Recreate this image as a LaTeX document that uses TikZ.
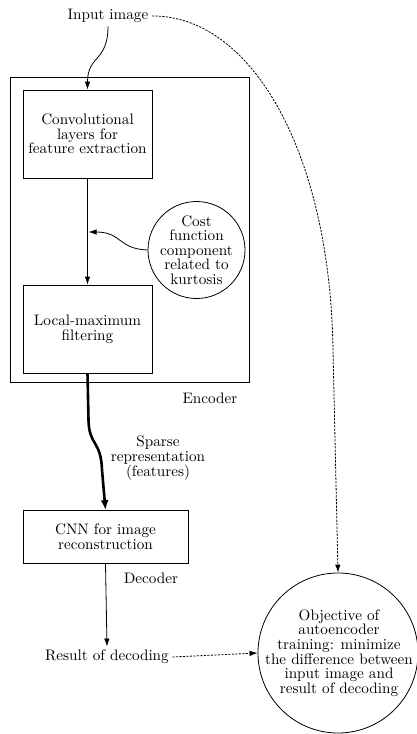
\documentclass[tikz,border=0pt]{standalone}
\usepackage{fontspec}
\setmainfont{lmroman10-regular.otf}
\usetikzlibrary{arrows.meta}
\begin{document}
\begin{tikzpicture}[x=1pt,y=-1pt,
  every node/.style={font=\fontsize{15.2}{14.6}\selectfont, align=center},
  blockbox/.style={draw, line width=0.8pt, inner sep=0pt},
  ring/.style={draw, circle, line width=0.8pt, inner sep=0pt},
  arr/.style={line width=0.8pt, -{Latex[length=8pt,width=5.5pt]}},
  thickarr/.style={line width=2.6pt, -{Latex[length=10pt,width=8pt]}},
  dasharr/.style={line width=0.8pt, dash pattern=on 2.2pt off 1.3pt, -{Latex[length=8pt,width=5.5pt]}}
]
\useasboundingbox (0,0) rectangle (416,734);

\node (inp) at (108,16) {Input image};
\node[blockbox, minimum width=239pt, minimum height=305pt] (enc) at (129.5,229.5) {};
\node[blockbox, minimum width=129pt, minimum height=88pt] (conv) at (87.5,134) {Convolutional\\layers for\\feature extraction};
\node[blockbox, minimum width=129pt, minimum height=88pt] (loc) at (87.5,329) {Local-maximum\\filtering};
\node[ring, minimum size=97pt] (cost) at (196.5,250) {};
\node (costtxt) at (cost.center) {Cost\\function\\component\\related to\\kurtosis};
\node (enclab) at (210,398) {Encoder};
\node (sparse) at (158,458) {Sparse\\representation\\(features)};
\node[blockbox, minimum width=165pt, minimum height=53pt] (cnn) at (105.5,537) {CNN for image\\reconstruction};
\node (declab) at (151,578) {Decoder};
\node (res) at (107,657) {Result of decoding};
\node[ring, minimum size=160pt] (obj) at (338,653) {};
\node (objtxt) at (339,653) {Objective of\\autoencoder\\training: minimize\\the difference between\\input image and\\result of decoding};
\coordinate (join) at (88.5,232);
\coordinate (bend) at (333,350);

\draw[arr] (inp.south) .. controls (108,62) and (87.5,55) .. (conv.north);
\draw[arr] (conv.south) -- (loc.north);
\draw[arr] (cost.west) .. controls (118,249) and (122,232) .. (join);
\draw[thickarr] (loc.south) -- (88.5,420) .. controls (89,446) and (101,440) .. (102,470) -- (cnn.north);
\draw[arr] (cnn.south) -- (res.north);
\draw[dasharr] (res.east) -- (obj.west);
\draw[dasharr] (inp.east) .. controls (250,15) and (330,150) .. (bend) -- (obj.north);
\end{tikzpicture}
\end{document}
